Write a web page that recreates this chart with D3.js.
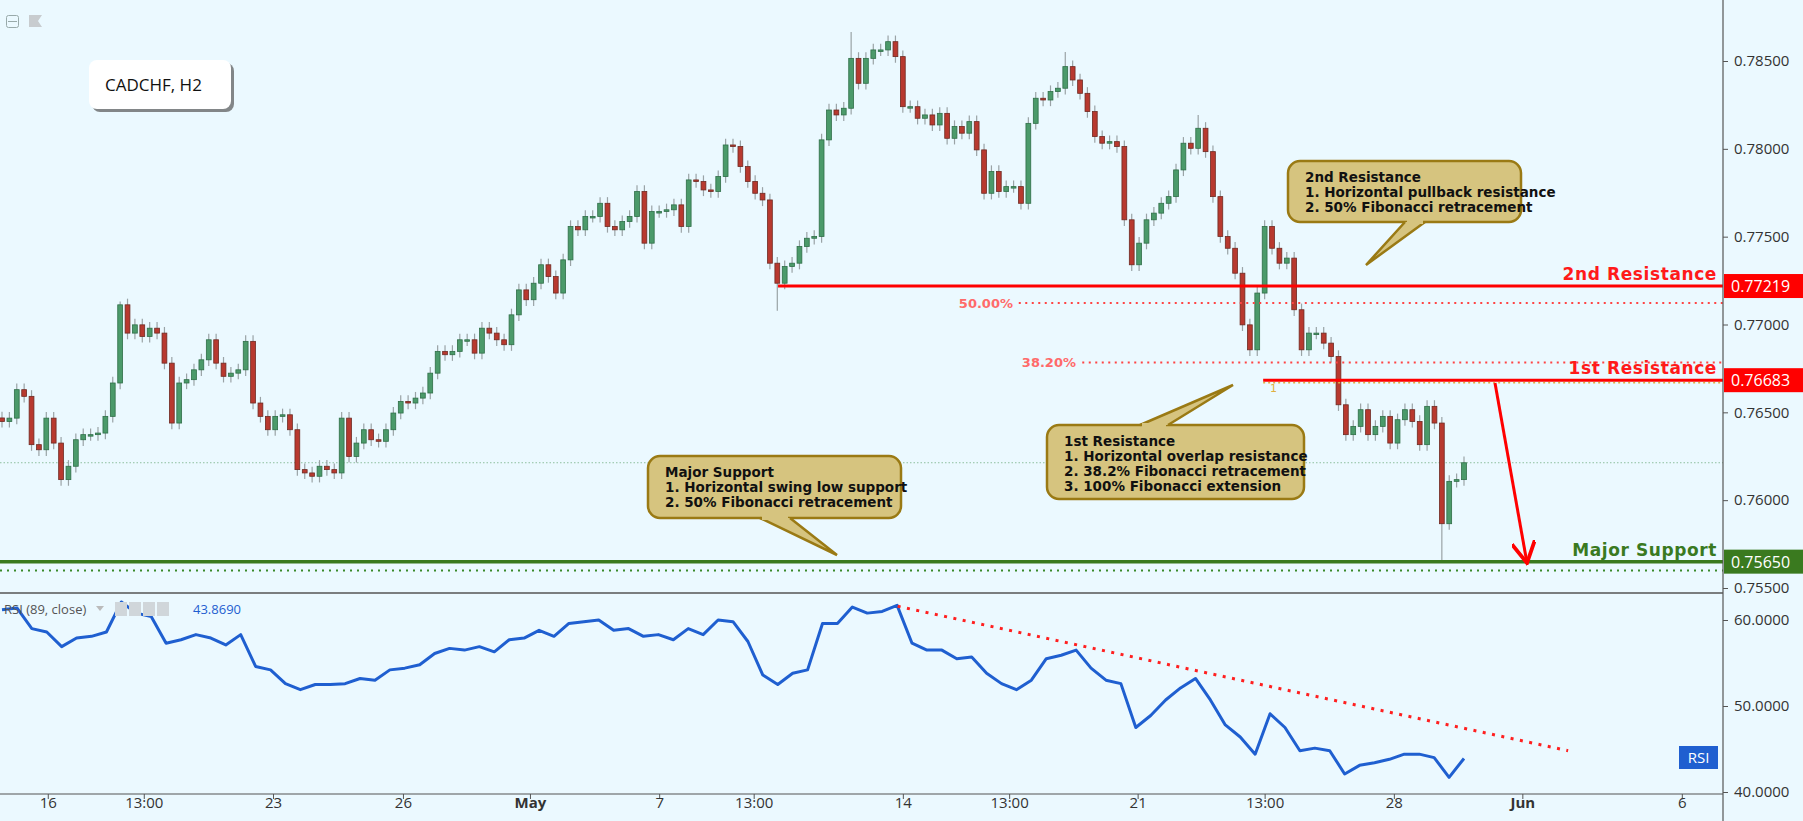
<!DOCTYPE html>
<html><head><meta charset="utf-8">
<script src="https://cdn.jsdelivr.net/npm/d3@7"></script>
<style>body{margin:0;background:#ebf9ff;overflow:hidden}svg{display:block}</style>
</head><body>
<svg id="c" width="1803" height="821"></svg>
<script>
const closes=[.76448,.76467,.76629,.76591,.76316,.76287,.76467,.76325,.76117,.76193,
.76344,.76373,.76373,.76382,.76477,.76667,.77112,.76951,.76998,.76932,
.76979,.76951,.76780,.76439,.76667,.76686,.76742,.76799,.76913,.76780,.76705,
.76723,.76742,.76904,.76553,.76477,.76401,.76477,.76486,.76401,.76174,
.76155,.76136,.76193,.76174,.76155,.76467,.76249,.76325,.76401,.76344,
.76335,.76401,.76496,.76562,.76553,.76581,.76610,.76723,.76847,.76828,
.76847,.76913,.76913,.76837,.76979,.76951,.76913,.76885,
.77055,.77197,.77141,.77235,.77340,.77273,.77179,.77368,.77558,.77539,
.77615,.77615,.77690,.77558,.77539,.77586,.77615,.77757,.77463,.77643,
.77643,.77653,.77681,.77558,.77823,.77814,.77766,.77757,.77842,.78022,
.78013,.77899,.77814,.77747,.77709,.77349,.77235,.77330,.77349,.77444,
.77491,.77501,.78051,.78221,.78193,.78231,.78515,.78373,.78515,.78563,
.78563,.78610,.78525,.78240,.78240,.78174,.78193,.78136,.78202,.78060,
.78127,.78089,.78155,
.77994,.77747,.77871,.77757,.77785,.77785,.77690,.78145,
.78288,.78278,.78326,.78345,.78468,.78392,.78316,.78212,.78070,.78032,
.78041,.78013,.77596,.77340,.77463,.77596,.77634,.77690,.77728,.77880,
.78032,.78003,.78117,.77984,.77728,.77501,.77434,.77292,.76998,
.76856,.77179,.77558,.77434,.77349,.77378,.77084,.76856,.76951,.76951,
.76894,.76818,.76543,.76373,.76420,.76515,.76373,.76420,.76477,
.76325,.76458,.76515,.76448,.76316,.76534,.76439,.75866,.76107,.76117,.76213];
// notable wick extremes: [approx index, high or low, price]
const wickExtremes=[[16.5,"h",.77131],[105.2,"l",.77078],[114.3,"h",.78665],[145.7,"h",.78551],[163.2,"h",.78193],[195.6,"l",.75650]];
const rsi=[61.2,61.4,59.0,58.6,56.9,57.9,58.1,58.6,62.1,60.8,60.4,57.3,57.7,58.3,57.9,57.1,58.3,54.6,54.2,52.6,
51.9,52.5,52.5,52.6,53.2,53.0,54.2,54.4,54.8,56.1,56.7,56.5,56.9,56.3,57.7,57.9,58.8,58.1,59.6,59.8,
60.0,58.8,59.0,58.1,58.3,57.7,59.0,58.3,60.0,59.8,57.5,53.6,52.5,53.8,
54.2,59.6,59.6,61.5,60.8,61.0,61.7,57.3,56.5,56.5,55.5,55.7,53.8,52.6,51.9,53.0,55.5,55.9,56.5,54.4,53.0,52.6,
47.5,48.9,50.7,52.1,53.2,50.7,47.8,46.4,44.4,49.1,47.5,44.8,45.1,44.8,42.1,43.1,43.4,43.8,44.4,44.4,44.0,41.7,43.9];
const priceTicks=[0.785,0.78,0.775,0.77,0.765,0.76,0.755];
const rsiTicks=[60,50,40];
const xTicks=[["16",6.2],["13:00",19.2],["23",36.7],["26",54.3],["May",71.5],["7",89.0],["13:00",101.8],["14",122.0],["13:00",136.4],["21",153.8],["13:00",171.0],["28",188.5],["Jun",205.9],["6",227.5]];
const levels={res2:0.77219,res1:0.76683,support:0.75650,fib50:0.77123,fib382:0.76784,ext1:0.76668,supDot:0.75599,last:0.76213};
const rsiTrend=[[121.3,61.6],[212.1,44.8]];

const svg=d3.select("#c");
const N=closes.length;
const R=1723;
const x=d3.scaleLinear().domain([0,N-1]).range([2,1464]);
const y=d3.scaleLinear().domain([0.785,0.755]).range([61,588]);
const yr=d3.scaleLinear().domain([60,40]).range([620,792]);
const bg="#ebf9ff";
svg.append("rect").attr("width",1803).attr("height",821).attr("fill",bg);

svg.append("clipPath").attr("id","mc").append("rect").attr("x",0).attr("y",0).attr("width",R).attr("height",592);
svg.append("clipPath").attr("id","rc").append("rect").attr("x",0).attr("y",594).attr("width",R).attr("height",200);
const g=svg.append("g").attr("clip-path","url(#mc)");

const cd=closes.map((c,i)=>{const o=i?closes[i-1]:c+0.0002;return{i,o,c,h:Math.max(o,c)+0.00035,l:Math.min(o,c)-0.00035};});
wickExtremes.forEach(([idx,t,p])=>{let best=null;for(let k=Math.round(idx)-3;k<=Math.round(idx)+3;k++){const d=cd[k];if(!d)continue;if(!best||(t=="h"?Math.max(d.o,d.c)>Math.max(best.o,best.c):Math.min(d.o,d.c)<Math.min(best.o,best.c)))best=d;}if(t=="h")best.h=p;else best.l=p;});

g.append("line").attr("x1",0).attr("x2",R).attr("y1",y(levels.last)).attr("y2",y(levels.last)).attr("stroke","#8fbf9f").attr("stroke-dasharray","1.5,2");

const cg=g.append("g");
cg.selectAll("line").data(cd).join("line").attr("x1",d=>x(d.i)).attr("x2",d=>x(d.i)).attr("y1",d=>y(d.h)).attr("y2",d=>y(d.l)).attr("stroke","#9aa3a6").attr("stroke-width",1.2);
cg.selectAll("rect").data(cd).join("rect").attr("x",d=>x(d.i)-2.4).attr("width",4.8)
 .attr("y",d=>y(Math.max(d.o,d.c))).attr("height",d=>Math.max(1.5,Math.abs(y(d.o)-y(d.c))))
 .attr("fill",d=>d.c>=d.o?"#4b9a6a":"#b8392f").attr("stroke",d=>d.c>=d.o?"#2f6e47":"#6e2a22").attr("stroke-width",0.8);

g.append("line").attr("x1",x(105.1)).attr("x2",R).attr("y1",y(levels.res2)).attr("y2",y(levels.res2)).attr("stroke","#ff0000").attr("stroke-width",3);
g.append("line").attr("x1",x(137.7)).attr("x2",R).attr("y1",y(levels.fib50)).attr("y2",y(levels.fib50)).attr("stroke","#ff4444").attr("stroke-width",2).attr("stroke-dasharray","2,4.5");
g.append("line").attr("x1",x(146.3)).attr("x2",R).attr("y1",y(levels.fib382)).attr("y2",y(levels.fib382)).attr("stroke","#ff4444").attr("stroke-width",2).attr("stroke-dasharray","2,4.5");
g.append("line").attr("x1",x(170.8)).attr("x2",R).attr("y1",y(levels.ext1)).attr("y2",y(levels.ext1)).attr("stroke","#e0b040").attr("stroke-width",1.5).attr("stroke-dasharray","2,3");
g.append("line").attr("x1",x(170.8)).attr("x2",R).attr("y1",y(levels.res1)).attr("y2",y(levels.res1)).attr("stroke","#ff0000").attr("stroke-width",3);
g.append("line").attr("x1",0).attr("x2",R).attr("y1",y(levels.support)).attr("y2",y(levels.support)).attr("stroke","#3a7a1f").attr("stroke-width",3.5);
g.append("line").attr("x1",0).attr("x2",R).attr("y1",y(levels.supDot)).attr("y2",y(levels.supDot)).attr("stroke","#3a8a2a").attr("stroke-width",2).attr("stroke-dasharray","2,5");
const ft="'DejaVu Sans',Verdana,sans-serif";
g.append("text").attr("x",1013).attr("y",y(levels.fib50)+5).attr("text-anchor","end").attr("fill","#ff6a6a").attr("font-size",13).attr("font-weight","bold").attr("font-family",ft).text("50.00%");
g.append("text").attr("x",1076).attr("y",y(levels.fib382)+5).attr("text-anchor","end").attr("fill","#ff6a6a").attr("font-size",13).attr("font-weight","bold").attr("font-family",ft).text("38.20%");
g.append("text").attr("x",1270).attr("y",y(levels.ext1)+9).attr("fill","#e0b040").attr("font-size",11).attr("font-family",ft).text("1");
const lab=(t,yy,c)=>g.append("text").attr("x",1717).attr("y",yy).attr("text-anchor","end").attr("fill",c).attr("font-size",17).attr("font-weight","bold").attr("letter-spacing",0.6).attr("font-family",ft).text(t);
lab("2nd Resistance",y(levels.res2)-6,"#ff1a1a");
lab("1st Resistance",y(levels.res1)-6,"#ff1a1a");
lab("Major Support",y(levels.support)-6,"#3a7a1f");

svg.append("defs").append("marker").attr("id","ah").attr("viewBox","0 0 10 10").attr("refX",9).attr("refY",5).attr("markerWidth",8).attr("markerHeight",8).attr("orient","auto-start-reverse")
 .append("path").attr("d","M0,0 L9,5 L0,10").attr("fill","none").attr("stroke","#ff0000").attr("stroke-width",1.6);
g.append("line").attr("x1",1495).attr("y1",383).attr("x2",1527).attr("y2",563).attr("stroke","#ff0000").attr("stroke-width",3).attr("marker-end","url(#ah)");

function callout(x0,y0,w,h,tip,base,lines){
 const gg=svg.append("g");
 gg.append("rect").attr("x",x0).attr("y",y0).attr("width",w).attr("height",h).attr("rx",12).attr("fill","#d6c47f").attr("stroke","#9a7a14").attr("stroke-width",2.5);
 gg.append("path").attr("d",`M${base[0]},${base[1]} L${tip[0]},${tip[1]} L${base[2]},${base[3]}`).attr("fill","#d6c47f").attr("stroke","#9a7a14").attr("stroke-width",2.5).attr("stroke-linejoin","miter");
 gg.append("line").attr("x1",base[0]+2).attr("y1",base[1]).attr("x2",base[2]-2).attr("y2",base[3]).attr("stroke","#d6c47f").attr("stroke-width",4);
 lines.forEach((t,i)=>gg.append("text").attr("x",x0+17).attr("y",y0+21+i*15).attr("font-size",13.5).attr("font-weight","bold").attr("font-family",ft).attr("fill","#111").text(t));
}
callout(648,456,253,62,[837,555],[760,518,790,518],["Major Support","1. Horizontal swing low support","2. 50% Fibonacci retracement"]);
callout(1047,425,257,74,[1233,385],[1140,425,1168,425],["1st Resistance","1. Horizontal overlap resistance","2. 38.2% Fibonacci retracement","3. 100% Fibonacci extension"]);
callout(1288,161,233,61,[1366,265],[1405,222,1425,222],["2nd Resistance","1. Horizontal pullback resistance","2. 50% Fibonacci retracement"]);

svg.append("rect").attr("x",92).attr("y",63).attr("width",142).attr("height",49).attr("rx",8).attr("fill","#555").attr("opacity",0.7);
svg.append("rect").attr("x",89).attr("y",60).attr("width",142).attr("height",49).attr("rx",8).attr("fill","#fff");
svg.append("text").attr("x",105).attr("y",91).attr("font-size",17).attr("font-family","'Open Sans',sans-serif").attr("fill","#111").text("CADCHF, H2");
svg.append("rect").attr("x",6.5).attr("y",15.5).attr("width",12).attr("height",12).attr("rx",2).attr("fill","none").attr("stroke","#9aa");
svg.append("line").attr("x1",8).attr("x2",17).attr("y1",21.5).attr("y2",21.5).attr("stroke","#9aa");
svg.append("path").attr("d","M29,15 L42,15 L38,21 L42,27 L29,27Z").attr("fill","#c8cccf");

const rg=svg.append("g").attr("clip-path","url(#rc)");
const M=rsi.length;
rg.append("path").datum(rsi).attr("fill","none").attr("stroke","#1f5fd0").attr("stroke-width",3).attr("stroke-linejoin","round")
 .attr("d",d3.line().x((d,i)=>x(i*(N-1)/(M-1))).y(d=>yr(d)));
rg.append("line").attr("x1",x(rsiTrend[0][0])).attr("y1",yr(rsiTrend[0][1])).attr("x2",x(rsiTrend[1][0])).attr("y2",yr(rsiTrend[1][1])).attr("stroke","#ff2020").attr("stroke-width",3).attr("stroke-dasharray","3,6.5");
svg.append("text").attr("x",4).attr("y",614).attr("font-size",13).attr("font-family","'Open Sans',sans-serif").attr("fill","#555").text("RSI (89, close)");
svg.append("path").attr("d","M96,606 L104,606 L100,611Z").attr("fill","#bbb");
[0,1,2,3].forEach(i=>svg.append("rect").attr("x",115+i*14).attr("y",602).attr("width",12).attr("height",14).attr("fill","#d0d6da"));
svg.append("text").attr("x",193).attr("y",614).attr("font-size",13).attr("font-family","'Open Sans',sans-serif").attr("fill","#1f5fd0").text("43.8690");
svg.append("rect").attr("x",1679).attr("y",746).attr("width",39).attr("height",23).attr("fill","#1f5fd0");
svg.append("text").attr("x",1698.5).attr("y",763).attr("text-anchor","middle").attr("font-size",15).attr("font-family","'Open Sans',sans-serif").attr("fill","#fff").text("RSI");

svg.append("line").attr("x1",0).attr("x2",R).attr("y1",593).attr("y2",593).attr("stroke","#555").attr("stroke-width",1.5);
svg.append("line").attr("x1",R).attr("x2",R).attr("y1",0).attr("y2",821).attr("stroke","#555").attr("stroke-width",1.2);
svg.append("line").attr("x1",0).attr("x2",R).attr("y1",794).attr("y2",794).attr("stroke","#555").attr("stroke-width",1.2);
svg.append("rect").attr("x",R+1).attr("y",0).attr("width",80).attr("height",821).attr("fill",bg);

const pa=svg.append("g").attr("transform",`translate(${R},0)`).call(d3.axisRight(y).tickValues(priceTicks).tickFormat(d3.format(".5f")).tickSize(5));
const ra=svg.append("g").attr("transform",`translate(${R},0)`).call(d3.axisRight(yr).tickValues(rsiTicks).tickFormat(d3.format(".4f")).tickSize(5));
[pa,ra].forEach(a=>{a.select(".domain").remove();a.selectAll("text").attr("font-size",15).attr("font-family","'Open Sans',sans-serif").attr("fill","#333").attr("dx",3);a.selectAll("line").attr("stroke","#555");});
const xa=svg.append("g").attr("transform","translate(0,794)").call(d3.axisBottom(x).tickValues(xTicks.map(d=>d[1])).tickFormat((d,i)=>xTicks[i][0]).tickSize(5));
xa.select(".domain").remove();
xa.selectAll("text").attr("font-size",15).attr("font-family","'Open Sans',sans-serif").attr("fill","#333").attr("dy",6).attr("font-weight",(d,i)=>xTicks[i][0]=="May"||xTicks[i][0]=="Jun"?"bold":"normal");
xa.selectAll("line").attr("stroke","#555");
svg.append("rect").attr("x",R+1).attr("y",595).attr("width",80).attr("height",3).attr("fill",bg);

const tag=(p,c)=>{svg.append("rect").attr("x",R+1).attr("y",y(p)-12).attr("width",79).attr("height",24).attr("fill",c);
 svg.append("text").attr("x",R+8).attr("y",y(p)+6).attr("font-size",16).attr("font-family","'Open Sans',sans-serif").attr("fill","#fff").text(d3.format(".5f")(p));};
tag(levels.res2,"#ff0000");tag(levels.res1,"#ff0000");tag(levels.support,"#3a7a1f");
</script></body></html>
